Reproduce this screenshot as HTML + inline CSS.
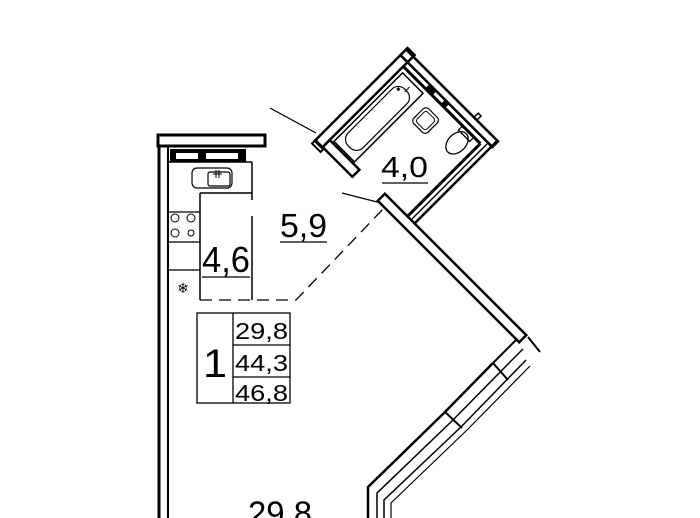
<!DOCTYPE html>
<html><head><style>
html,body{margin:0;padding:0;background:#fff;}
svg{display:block}
text{font-family:"Liberation Sans",sans-serif;fill:#000}
</style></head><body>
<svg width="700" height="518" viewBox="0 0 700 518" xmlns="http://www.w3.org/2000/svg">
<g fill="none" stroke="#000" stroke-width="2">
<!-- left wall -->
<rect x="158" y="135" width="107" height="11" stroke-width="3"/>
<line x1="159" y1="146" x2="159" y2="518" stroke-width="3"/>
<line x1="168" y1="147" x2="168" y2="518" stroke-width="2"/>
<!-- cabinet row -->
<rect x="170" y="149" width="76" height="13" fill="#000" stroke="none"/>
<rect x="176" y="153" width="22" height="6" fill="#fff" stroke="none"/>
<rect x="206" y="153" width="32" height="6" fill="#fff" stroke="none"/>
<line x1="168" y1="162" x2="252" y2="162" stroke-width="1.5"/>
<!-- kitchen counter -->
<line x1="200" y1="193" x2="200" y2="300" stroke-width="1.5"/>
<line x1="200" y1="193" x2="252" y2="193" stroke-width="1.5"/>
<line x1="252" y1="162" x2="252" y2="200" stroke-width="1.5"/>
<line x1="252" y1="216" x2="252" y2="300" stroke-width="1.5"/>
<line x1="168" y1="212" x2="200" y2="212" stroke-width="1.2"/>
<line x1="168" y1="242" x2="200" y2="242" stroke-width="1.2"/>
<line x1="168" y1="270" x2="200" y2="270" stroke-width="1.2"/>
<rect x="192" y="168" width="40" height="20" rx="5" stroke-width="1.2"/>
<rect x="208" y="172" width="22" height="14" rx="2" stroke-width="1.2"/>
<line x1="216" y1="170" x2="216" y2="178" stroke-width="1"/><line x1="219" y1="170" x2="219" y2="178" stroke-width="1"/><line x1="213" y1="174" x2="222" y2="174" stroke-width="1"/>
<circle cx="175" cy="218" r="4" stroke-width="1"/><circle cx="191" cy="218" r="4" stroke-width="1"/>
<circle cx="175" cy="233" r="4" stroke-width="1"/><circle cx="191" cy="233" r="3" stroke-width="1"/>
<!-- dashed boundary -->
<path d="M200 300 H296 L385 207" stroke-dasharray="12 7" stroke-width="1.3"/>
<!-- underlines -->
<line x1="202" y1="277" x2="250" y2="277" stroke-width="1.2"/>
<line x1="280" y1="242" x2="327" y2="242" stroke-width="1.2"/>
<line x1="382" y1="183" x2="428" y2="183" stroke-width="1.2"/>
<!-- door leaders -->
<line x1="270" y1="108" x2="316" y2="133" stroke-width="1.2"/>
<line x1="342" y1="193" x2="381" y2="203" stroke-width="1.2"/>

<!-- bathroom in rotated frame -->
<g transform="translate(317,140) rotate(-45)">
  <rect x="-2" y="-1" width="131" height="10" stroke-width="2.5"/>
  <rect x="-1" y="9" width="10" height="42" stroke-width="2.5"/>
  <rect x="-6" y="-1" width="5" height="12" stroke-width="2"/>
  <rect x="119" y="-1" width="8" height="130" stroke-width="2.5"/>
  <line x1="113" y1="9" x2="113" y2="118" stroke-width="3"/>
  <rect x="113" y="40" width="6" height="10" fill="#000" stroke="none"/>
  <rect x="113" y="62" width="6" height="6" fill="#000" stroke="none"/>
  <rect x="127" y="95" width="6" height="4" stroke-width="1.5"/>
  <line x1="10" y1="118" x2="113" y2="118" stroke-width="3"/>
  <line x1="10" y1="123" x2="119" y2="123" stroke-width="1.5"/>
  <line x1="10" y1="128" x2="127" y2="128" stroke-width="2.5"/>
  <!-- big diagonal wall -->
  <rect x="0" y="86" width="10" height="200" stroke-width="2.5"/>
  <!-- tub -->
  <rect x="11" y="13" width="97" height="29" stroke-width="1.5"/>
  <rect x="18" y="17" width="80" height="21" rx="9" stroke-width="1.2"/>
  <rect x="92" y="20" width="3" height="3" fill="#000" stroke="none"/>
  <line x1="96" y1="28" x2="103" y2="28" stroke-width="1"/>
  <!-- sink -->
  <rect x="80" y="53" width="21" height="20" rx="4" stroke-width="1.2"/>
  <rect x="83" y="56" width="15" height="14" rx="3" stroke-width="1"/>
  <!-- toilet -->
  <ellipse cx="97" cy="101" rx="13" ry="9" stroke-width="1.3"/>
  <rect x="107" y="93" width="6" height="16" stroke-width="1.3"/>
</g>
<line x1="528" y1="337" x2="540" y2="352" stroke-width="2"/>
<line x1="516" y1="340" x2="493" y2="363" stroke-width="2"/>
<!-- window -->
<path d="M493 363 L445 412 L368 487 V518" stroke-width="2.5"/>
<path d="M523 349 L510 362 L453 420 L377 493 V518" stroke-width="1.5"/>
<path d="M526 360 L462 426 L384 500 V518" stroke-width="1.5"/>
<path d="M530 366 L467 430 L391 503 V518" stroke-width="1.2"/>
<line x1="493" y1="363" x2="508" y2="380" stroke-width="2"/>
<line x1="445" y1="412" x2="462" y2="428" stroke-width="2"/>
<!-- legend -->
<rect x="197" y="313" width="93" height="90" stroke-width="1.3"/>
<line x1="233" y1="313" x2="233" y2="403" stroke-width="1.3"/>
<line x1="233" y1="345" x2="290" y2="345" stroke-width="1.3"/>
<line x1="233" y1="377" x2="290" y2="377" stroke-width="1.3"/>
</g>
<text x="183" y="293" font-size="14" text-anchor="middle">❄</text>
<text x="202" y="272" font-size="36" textLength="48" lengthAdjust="spacingAndGlyphs">4,6</text>
<text x="280" y="237" font-size="33" textLength="47" lengthAdjust="spacingAndGlyphs">5,9</text>
<text x="381" y="177" font-size="29" textLength="47" lengthAdjust="spacingAndGlyphs">4,0</text>
<text x="203" y="377" font-size="40" textLength="24" lengthAdjust="spacingAndGlyphs">1</text>
<text x="235" y="339" font-size="23" textLength="53" lengthAdjust="spacingAndGlyphs">29,8</text>
<text x="235" y="371" font-size="23" textLength="53" lengthAdjust="spacingAndGlyphs">44,3</text>
<text x="235" y="401" font-size="23" textLength="53" lengthAdjust="spacingAndGlyphs">46,8</text>
<text x="248" y="525" font-size="34" textLength="64" lengthAdjust="spacingAndGlyphs">29,8</text>
</svg>
</body></html>
